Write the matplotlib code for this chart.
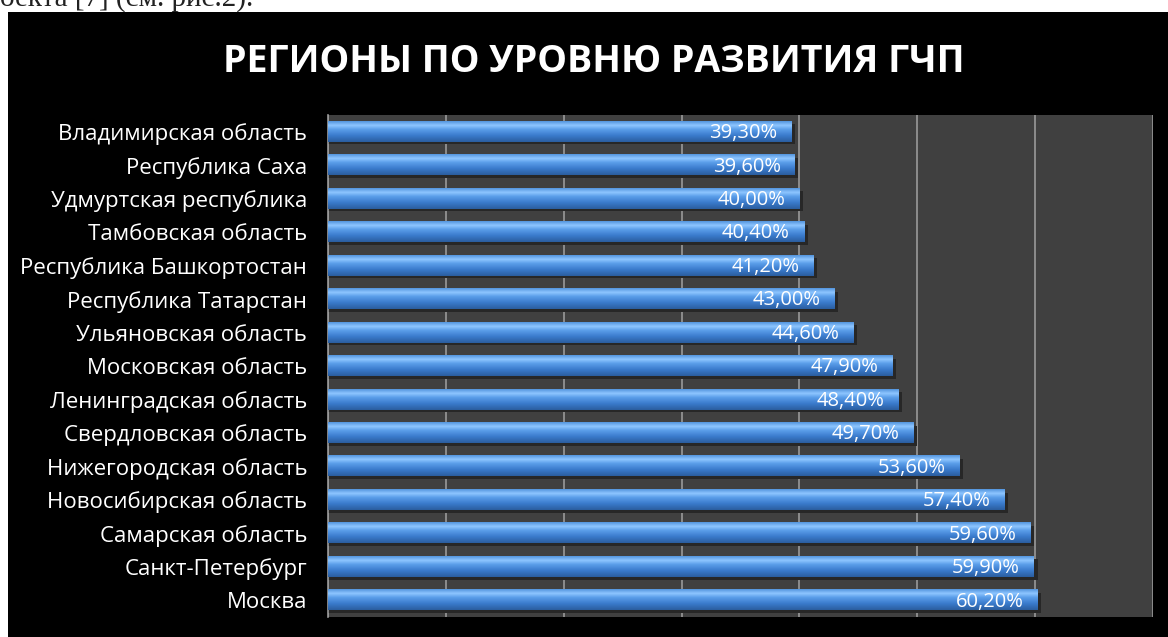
import numpy as np
import matplotlib.pyplot as plt
from matplotlib.patches import Rectangle
from matplotlib.colors import LinearSegmentedColormap

# данные с рисунка (сверху вниз)
regions = ["Владимирская область", "Республика Саха", "Удмуртская республика",
           "Тамбовская область", "Республика Башкортостан", "Республика Татарстан",
           "Ульяновская область", "Московская область", "Ленинградская область",
           "Свердловская область", "Нижегородская область", "Новосибирская область",
           "Самарская область", "Санкт-Петербург", "Москва"]
values = [39.3, 39.6, 40.0, 40.4, 41.2, 43.0, 44.6, 47.9, 48.4, 49.7,
          53.6, 57.4, 59.6, 59.9, 60.2]
title = "РЕГИОНЫ ПО УРОВНЮ РАЗВИТИЯ ГЧП"

W, H = 1168, 637
fig = plt.figure(figsize=(W / 100, H / 100), dpi=100, facecolor="white")

# кусок текста документа над картинкой
fig.text(0, 1 - 6 / H, "оекта [7] (см. рис.2).", fontsize=21,
         family="Liberation Serif", color="#222222", ha="left", va="baseline")
fig.patches.append(Rectangle((8 / W, 0), 1 - 8 / W, 1 - 12 / H,
                             transform=fig.transFigure, facecolor="black",
                             edgecolor="none", zorder=1))

fig.text(594 / W, 1 - 62 / H, title, fontsize=27, fontweight="bold",
         family="Open Sans", color="white", ha="center", va="center", zorder=5)

ax = fig.add_axes([328 / W, 20 / H, 825 / W, 502 / H])
ax.set_facecolor("#404040")
ax.set_zorder(3)

n = len(regions)
ypos = np.arange(n)
bh = 0.6

# градиент "объёмного" столбца
cmap = LinearSegmentedColormap.from_list("bar", [
    (0.0, "#2b5e9f"), (0.3, "#3a7acb"), (0.6, "#5a9de9"),
    (0.8, "#8ec6ff"), (1.0, "#5495de")])
grad = np.linspace(0, 1, 64).reshape(-1, 1)

for i, (name, v) in enumerate(zip(regions, values)):
    y = ypos[i]
    # тень
    ax.barh(y + 0.08, v + 0.3, height=bh, color="#272727", zorder=2)
    ax.imshow(grad, cmap=cmap, aspect="auto", origin="lower",
              extent=(0, v, y + bh / 2, y - bh / 2), zorder=3)
    ax.text(v - 1.2, y + 0.04, f"{v:.2f}%".replace(".", ","), color="white",
            fontsize=14.5, family="Open Sans", ha="right", va="center", zorder=4)

ax.set_xlim(0, 70)
ax.set_ylim(n - 0.5, -0.5)
ax.set_xticks(np.arange(0, 71, 10))
ax.set_xticklabels([])
ax.tick_params(axis="x", length=0)
ax.grid(axis="x", color="#9a9a9a", linewidth=1.2, zorder=1)
ax.set_axisbelow(True)
ax.set_yticks(ypos)
ax.set_yticklabels(regions, color="white", fontsize=16, family="Open Sans")
ax.tick_params(axis="y", length=0, pad=15)
for s in ["top", "right", "bottom"]:
    ax.spines[s].set_visible(False)
ax.spines["left"].set_color("#9a9a9a")
ax.spines["left"].set_linewidth(1.2)

fig.savefig("out.png", dpi=100, facecolor=fig.get_facecolor())
